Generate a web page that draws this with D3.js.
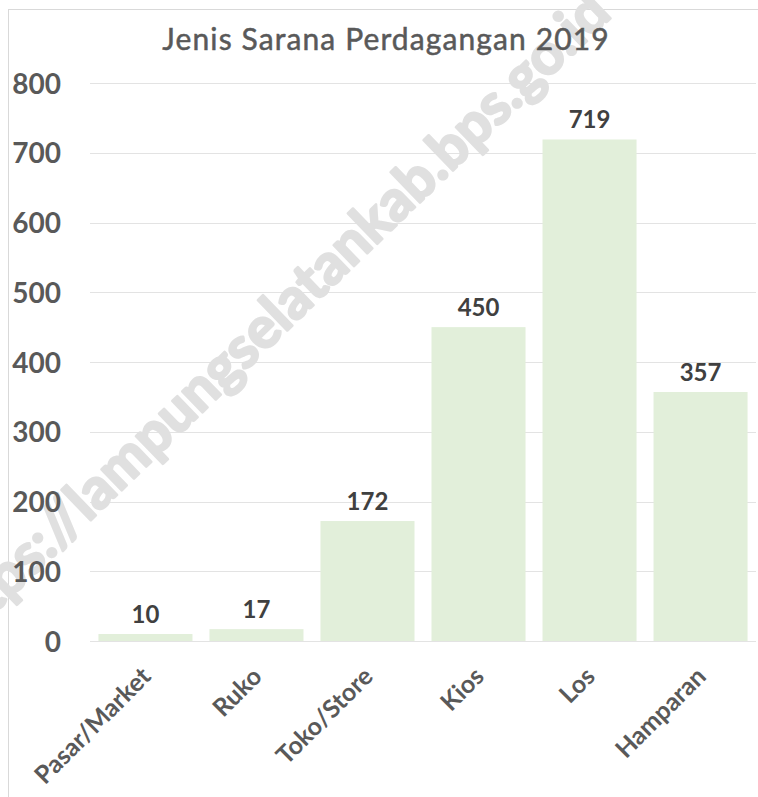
<!DOCTYPE html>
<html>
<head>
<meta charset="utf-8">
<title>Jenis Sarana Perdagangan 2019</title>
<script src="https://d3js.org/d3.v7.min.js"></script>
<style>
  body { margin: 0; background: #fff; }
  svg { font-family: Lato, "Open Sans", sans-serif; }
</style>
</head>
<body>
<div id="chart"></div>
<script>
var categories = ["Pasar/Market", "Ruko", "Toko/Store", "Kios", "Los", "Hamparan"];
var values = [10, 17, 172, 450, 719, 357];
var yTicks = [0, 100, 200, 300, 400, 500, 600, 700, 800];
var title = "Jenis Sarana Perdagangan 2019";
var watermark = "https://lampungselatankab.bps.go.id";

var W = 758, H = 797;
var margin = { top: 83, right: 2, bottom: 156, left: 90 };
var width = W - margin.left - margin.right,
    height = H - margin.top - margin.bottom;

var svg = d3.select("#chart").append("svg")
  .attr("width", W)
  .attr("height", H);

// chart border
svg.append("rect")
  .attr("x", 8.5).attr("y", 9.5)
  .attr("width", 900).attr("height", 900)
  .attr("fill", "none")
  .attr("stroke", "#d9d9d9");

var x = d3.scaleBand()
  .domain(categories)
  .range([0, width])
  .paddingInner(0.153)
  .paddingOuter(0.076);

var y = d3.scaleLinear()
  .domain([0, 800])
  .range([height, 0]);

// gridlines
var grid = svg.append("g")
  .attr("transform", "translate(" + margin.left + "," + margin.top + ")");
grid.selectAll("line")
  .data(yTicks)
  .enter().append("line")
  .attr("x1", 0).attr("x2", width)
  .attr("y1", function (d) { return Math.round(y(d)) + 0.5; })
  .attr("y2", function (d) { return Math.round(y(d)) + 0.5; })
  .attr("stroke", "#e3e3e3");

// watermark, under the texts and bars
svg.append("text")
  .attr("text-anchor", "end")
  .attr("transform", "translate(613,16) rotate(-44)")
  .attr("fill", "#e0e0e0")
  .attr("stroke", "#e0e0e0")
  .attr("stroke-width", 2.5)
  .attr("stroke-linejoin", "round")
  .style("font-size", "57px")
  .style("font-weight", "bold")
  .style("font-family", "Lato, sans-serif")
  .text(watermark);

svg.append("text")
  .attr("x", 386)
  .attr("y", 50)
  .attr("text-anchor", "middle")
  .attr("fill", "#595959")
  .attr("stroke", "#595959")
  .attr("stroke-width", 0.5)
  .style("font-size", "30px")
  .style("letter-spacing", "1.1px")
  .text(title);

var g = svg.append("g")
  .attr("transform", "translate(" + margin.left + "," + margin.top + ")");

// y axis labels
var yAxis = g.append("g")
  .attr("transform", "translate(-29,0)")
  .call(d3.axisLeft(y).tickValues(yTicks).tickSize(0).tickPadding(0));
yAxis.select(".domain").remove();
yAxis.selectAll("text")
  .attr("fill", "#595959")
  .attr("dy", "0.36em")
  .style("font-size", "28px")
  .style("font-weight", "bold")
  .style("font-family", "Lato, sans-serif");

// bars
g.selectAll(".bar")
  .data(values)
  .enter().append("rect")
  .attr("class", "bar")
  .attr("x", function (d, i) { return x(categories[i]); })
  .attr("width", x.bandwidth())
  .attr("y", function (d) { return y(d); })
  .attr("height", function (d) { return height - y(d); })
  .attr("fill", "#e2efda");

// value labels
g.selectAll(".val")
  .data(values)
  .enter().append("text")
  .attr("class", "val")
  .attr("x", function (d, i) { return x(categories[i]) + x.bandwidth() / 2; })
  .attr("y", function (d) { return y(d) - 11; })
  .attr("text-anchor", "middle")
  .attr("fill", "#404040")
  .style("font-size", "24px")
  .style("font-weight", "bold")
  .text(function (d) { return d; });

// x labels, rotated
g.selectAll(".xl")
  .data(categories)
  .enter().append("text")
  .attr("class", "xl")
  .attr("text-anchor", "end")
  .attr("transform", function (d) {
    return "translate(" + (x(d) + x.bandwidth() / 2 + 7) + "," + (height + 37) + ") rotate(-45)";
  })
  .attr("fill", "#595959")
  .style("font-size", "25px")
  .style("font-weight", "bold")
  .text(function (d) { return d; });
</script>
</body>
</html>
